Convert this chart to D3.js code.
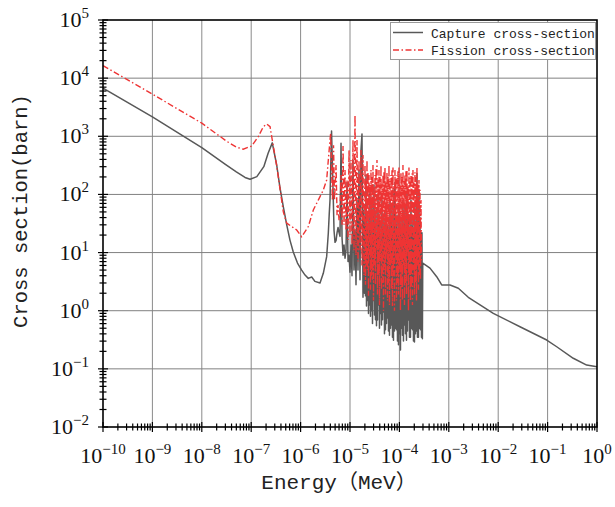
<!DOCTYPE html>
<html><head><meta charset="utf-8">
<script src="https://cdn.jsdelivr.net/npm/d3@7"></script>
<style>body{margin:0;background:#fff;} svg{display:block}</style>
</head><body>
<svg id="c" width="615" height="507"></svg>
<script>
// ---------------- data ----------------
const xTickExps = [-10,-9,-8,-7,-6,-5,-4,-3,-2,-1,0];
const yTickExps = [-2,-1,0,1,2,3,4,5];
const seriesNames = ["Capture cross-section","Fission cross-section"];
const xTitle = "Energy（MeV）";
const yTitle = "Cross section(barn)";

// [energy (MeV), cross section (barn)]
const capture = [
[1e-10,6700],[1e-9,2150],[1e-8,640],[3e-8,330],[5e-8,245],[7.5e-8,196],[9.5e-8,182],
[1.3e-7,202],[1.8e-7,300],[2.2e-7,510],[2.67e-7,770],[3.28e-7,321],[3.83e-7,129],
[4.47e-7,61],[5.24e-7,30],[6.09e-7,16.4],[7.11e-7,10.2],[8.65e-7,6.6],[1.05e-6,5.0],
[1.23e-6,4.1],[1.43e-6,3.6],[1.68e-6,3.8],[1.95e-6,3.2],[2.47e-6,3.0],[2.88e-6,4.4],
[3.37e-6,8.5],[3.64e-6,21.7],[3.79e-6,44],[3.94e-6,80],[4.23e-6,1230],
[4.54e-6,119],[4.75e-6,24],[4.98e-6,15],[5.22e-6,16],[5.47e-6,22],[5.73e-6,27],[6.00e-6,22],
[6.28e-6,19],[6.58e-6,760],[6.90e-6,18],[7.23e-6,9],[7.57e-6,13.5],[7.93e-6,8],[8.31e-6,11],
[8.71e-6,160],[9.12e-6,7],[9.56e-6,9],[1.00e-5,4.6],[1.048e-5,13.5],[1.098e-5,4],[1.15e-5,390],
[1.205e-5,5],[1.263e-5,24],[1.323e-5,2.8],[1.386e-5,80],[1.452e-5,5],[1.521e-5,263],[1.594e-5,3.4],
[1.67e-5,580],[1.749e-5,1100],[1.833e-5,1.7],[1.92e-5,54],[1.966e-5,2.0],
[2.012e-5,40],[2.060e-5,1.8],[2.108e-5,216],[2.157e-5,1.2],[2.208e-5,30],[2.260e-5,1.5],
[2.313e-5,44],[2.368e-5,0.9],[2.424e-5,20],[2.481e-5,1.25],[2.539e-5,119],[2.599e-5,0.8],
[2.660e-5,25],[2.723e-5,1.0],[2.787e-5,80],[2.853e-5,0.6],[2.920e-5,18],[2.989e-5,1.5],
[3.059e-5,145],[3.131e-5,0.84],[3.205e-5,30],[3.281e-5,0.7],[3.358e-5,54],[3.437e-5,0.55],
[3.518e-5,22],[3.601e-5,0.69],[3.686e-5,98],[3.773e-5,1.25],[3.861e-5,35],[3.952e-5,0.5],
[4.046e-5,36],[4.141e-5,0.9],[4.239e-5,15],[4.339e-5,0.57],[4.441e-5,80],[4.546e-5,0.7],
[4.653e-5,25],[4.763e-5,0.95],[4.875e-5,44],[4.990e-5,0.4],[5.107e-5,18],[5.228e-5,0.47],
[5.351e-5,66],[5.477e-5,0.6],[5.606e-5,28],[5.738e-5,0.75],[5.873e-5,30],[6.011e-5,0.45],
[6.153e-5,20],[6.298e-5,0.38],[6.447e-5,80],[6.599e-5,0.5],[6.754e-5,35],[6.913e-5,0.57],
[7.076e-5,54],[7.243e-5,0.35],[7.414e-5,22],[7.589e-5,0.31],[7.767e-5,119],[7.950e-5,0.45],
[8.138e-5,160],[8.330e-5,0.5],[8.526e-5,30],[8.727e-5,0.47],[8.933e-5,44],[9.143e-5,0.3],
[9.359e-5,20],[9.579e-5,0.26],[9.805e-5,66],[1.0035e-4,0.4],[1.027e-4,25],[1.051e-4,0.21],
[1.076e-4,36],[1.102e-4,0.5],[1.128e-4,18],[1.154e-4,0.38],[1.181e-4,80],[1.209e-4,0.3],
[1.238e-4,30],[1.267e-4,0.57],[1.297e-4,54],[1.328e-4,0.4],[1.359e-4,22],[1.391e-4,0.31],
[1.423e-4,98],[1.457e-4,0.45],[1.491e-4,35],[1.526e-4,0.69],[1.562e-4,44],[1.599e-4,0.35],
[1.637e-4,18],[1.675e-4,0.35],[1.715e-4,80],[1.755e-4,0.5],[1.797e-4,28],[1.839e-4,0.47],
[1.882e-4,36],[1.927e-4,0.3],[1.972e-4,20],[2.018e-4,0.29],[2.066e-4,66],[2.115e-4,0.4],
[2.165e-4,30],[2.216e-4,0.45],[2.268e-4,230],[2.321e-4,0.35],[2.376e-4,25],[2.432e-4,0.35],
[2.490e-4,119],[2.549e-4,0.5],[2.608e-4,40],[2.670e-4,0.47],[2.733e-4,22],[2.797e-4,0.35],
[2.863e-4,22],[2.92e-4,0.33],[2.97e-4,6.6],
[4.16e-4,5.4],[5.69e-4,3.85],[7.18e-4,2.77],[1.06e-3,2.77],[1.56e-3,2.43],[2.48e-3,1.70],
[7.96e-3,0.90],[2.76e-2,0.53],[9.6e-2,0.313],[0.153,0.24],[0.331,0.152],[0.618,0.116],[1.0,0.109]
];

const fission = [
[1e-10,16400],[1e-9,5300],[1e-8,1680],[3.2e-8,820],[5e-8,650],[6.9e-8,600],[1.02e-7,680],
[1.39e-7,985],[1.76e-7,1460],[2.06e-7,1630],[2.41e-7,1460],[2.67e-7,863],[3.28e-7,310],
[3.83e-7,125],[4.47e-7,50],[5.24e-7,32],[6.61e-7,28],[8.34e-7,24.4],[1.05e-6,18.7],
[1.43e-6,28],[1.81e-6,54],[2.28e-6,80],[2.88e-6,119],[3.37e-6,177],[3.64e-6,391],
[3.94e-6,863],[4.06e-6,1120],[4.23e-6,300],[4.41e-6,80],[4.64e-6,700],[4.86e-6,80],
[5.22e-6,320],[5.47e-6,44],[5.73e-6,66],[6.00e-6,36],[6.28e-6,54],[6.58e-6,216],[6.90e-6,30],
[7.23e-6,680],[7.57e-6,30],[7.93e-6,263],[8.31e-6,24],[8.71e-6,177],[9.12e-6,16.4],[9.56e-6,580],
[1.00e-5,20],[1.048e-5,391],[1.098e-5,13.5],[1.15e-5,863],[1.205e-5,11],[1.263e-5,2320],
[1.323e-5,9],[1.386e-5,863],[1.452e-5,7],[1.521e-5,391],[1.594e-5,11],[1.67e-5,580],
[1.749e-5,6],[1.833e-5,476],[1.92e-5,4.1],[1.966e-5,60],
[2.012e-5,321],[2.060e-5,2.8],[2.108e-5,180],[2.157e-5,6],[2.208e-5,391],[2.260e-5,5],
[2.313e-5,240],[2.368e-5,1.8],[2.424e-5,216],[2.481e-5,8],[2.539e-5,150],[2.599e-5,2.3],
[2.660e-5,263],[2.723e-5,4],[2.787e-5,200],[2.853e-5,3.4],[2.920e-5,321],[2.989e-5,1.5],
[3.059e-5,130],[3.131e-5,6],[3.205e-5,216],[3.281e-5,2.8],[3.358e-5,280],[3.437e-5,12],
[3.518e-5,391],[3.601e-5,1.9],[3.686e-5,180],[3.773e-5,4],[3.861e-5,263],[3.952e-5,1.25],
[4.046e-5,200],[4.141e-5,7],[4.239e-5,321],[4.339e-5,2.3],[4.441e-5,150],[4.546e-5,3],
[4.653e-5,216],[4.763e-5,1.0],[4.875e-5,250],[4.990e-5,5],[5.107e-5,290],[5.228e-5,1.9],
[5.351e-5,160],[5.477e-5,9],[5.606e-5,240],[5.738e-5,1.5],[5.873e-5,200],[6.011e-5,3],
[6.153e-5,321],[6.298e-5,1.25],[6.447e-5,170],[6.599e-5,6],[6.754e-5,216],[6.913e-5,2.3],
[7.076e-5,260],[7.243e-5,1.2],[7.414e-5,290],[7.589e-5,4],[7.767e-5,140],[7.950e-5,1.0],
[8.138e-5,263],[8.330e-5,8],[8.526e-5,190],[8.727e-5,1.5],[8.933e-5,216],[9.143e-5,3],
[9.359e-5,250],[9.579e-5,1.9],[9.805e-5,290],[1.0035e-4,5],[1.027e-4,150],[1.051e-4,1.0],
[1.076e-4,240],[1.102e-4,2.5],[1.128e-4,200],[1.154e-4,1.5],[1.181e-4,321],[1.209e-4,6],
[1.238e-4,170],[1.267e-4,1.25],[1.297e-4,216],[1.328e-4,3],[1.359e-4,250],[1.391e-4,1.9],
[1.423e-4,263],[1.457e-4,10],[1.491e-4,140],[1.526e-4,1.0],[1.562e-4,290],[1.599e-4,4],
[1.637e-4,190],[1.675e-4,1.5],[1.715e-4,216],[1.755e-4,2.5],[1.797e-4,230],[1.839e-4,1.25],
[1.882e-4,263],[1.927e-4,5],[1.972e-4,160],[2.018e-4,1.9],[2.066e-4,240],[2.115e-4,3],
[2.165e-4,200],[2.216e-4,1.5],[2.268e-4,290],[2.321e-4,6],[2.376e-4,150],[2.432e-4,2.3],
[2.490e-4,177],[2.549e-4,4],[2.608e-4,120],[2.670e-4,3.4],[2.733e-4,80],[2.8e-4,7.4]
];

// ---------------- drawing ----------------
const svg = d3.select("#c");
const L = 103, R = 597, T = 20, B = 427;
const x = d3.scaleLog().domain([1e-10, 1]).range([L, R]);
const y = d3.scaleLog().domain([1e-2, 1e5]).range([B, T]);

svg.append("rect").attr("width",615).attr("height",507).attr("fill","#fff");

// grid
const g = svg.append("g");
g.selectAll("line.gx").data(xTickExps.slice(1,-1)).join("line")
  .attr("x1", d => x(Math.pow(10,d))).attr("x2", d => x(Math.pow(10,d)))
  .attr("y1", T).attr("y2", B).attr("stroke","#8a8a8a").attr("stroke-width",1);
g.selectAll("line.gy").data(yTickExps.slice(1,-1)).join("line")
  .attr("y1", d => y(Math.pow(10,d))).attr("y2", d => y(Math.pow(10,d)))
  .attr("x1", L).attr("x2", R).attr("stroke","#808080").attr("stroke-width",1);

// curves
svg.append("clipPath").attr("id","clp").append("rect")
  .attr("x",L).attr("y",T).attr("width",R-L).attr("height",B-T);
const line = d3.line().x(d => x(d[0])).y(d => y(d[1]));
svg.append("path").datum(capture).attr("d", line).attr("clip-path","url(#clp)")
  .attr("fill","none").attr("stroke","#585858").attr("stroke-width",1.5).attr("stroke-linejoin","round");
svg.append("path").datum(fission).attr("d", line).attr("clip-path","url(#clp)")
  .attr("fill","none").attr("stroke","#ee3434").attr("stroke-width",1.4)
  .attr("stroke-dasharray","6,2.5,1.5,2.5");

// minor + major ticks values
function tickVals(exps){
  const v = [];
  for (let i = 0; i < exps.length; i++) {
    v.push({v: Math.pow(10, exps[i]), major: true});
    if (i < exps.length - 1) for (let k = 2; k <= 9; k++) v.push({v: k*Math.pow(10, exps[i]), major: false});
  }
  return v;
}
const ax = svg.append("g");
ax.selectAll("line.tx").data(tickVals(xTickExps)).join("line")
  .attr("x1", d => x(d.v)).attr("x2", d => x(d.v))
  .attr("y1", d => B - (d.major ? 5 : 3.5)).attr("y2", d => B + (d.major ? 5 : 3.5))
  .attr("stroke","#000").attr("stroke-width",1.2);
ax.selectAll("line.ty").data(tickVals(yTickExps)).join("line")
  .attr("y1", d => y(d.v)).attr("y2", d => y(d.v))
  .attr("x1", d => L - (d.major ? 5 : 3.5)).attr("x2", d => L + (d.major ? 5 : 3.5))
  .attr("stroke","#000").attr("stroke-width",1.2);

// frame
svg.append("rect").attr("x",L).attr("y",T).attr("width",R-L).attr("height",B-T)
  .attr("fill","none").attr("stroke","#000").attr("stroke-width",1.6);

// tick labels
const fmtExp = e => (e < 0 ? "\u2212" + Math.abs(e) : String(e));
const xl = svg.append("g").attr("font-family","'Liberation Serif', serif").attr("fill","#111");
xTickExps.forEach(e => {
  const t = xl.append("text").attr("x", x(Math.pow(10,e))).attr("y", 463)
    .attr("text-anchor","middle").attr("font-size",22);
  t.append("tspan").text("10");
  t.append("tspan").attr("dy",-9).attr("font-size",15).text(fmtExp(e));
});
yTickExps.forEach(e => {
  const t = xl.append("text").attr("x", 89).attr("y", y(Math.pow(10,e)) + 7)
    .attr("text-anchor","end").attr("font-size",22);
  t.append("tspan").text("10");
  t.append("tspan").attr("dy",-9).attr("font-size",15).text(fmtExp(e));
});

// axis titles
svg.append("text").attr("x",339).attr("y",489).attr("text-anchor","middle")
  .attr("font-family","'Liberation Mono','Noto Sans CJK SC',monospace").attr("font-size",21)
  .attr("fill","#222").text(xTitle);
svg.append("text").attr("transform","translate(27,211) rotate(-90)").attr("text-anchor","middle")
  .attr("font-family","'Liberation Mono','Noto Sans CJK SC',monospace").attr("font-size",20.5)
  .attr("fill","#222").text(yTitle);

// legend
const lg = svg.append("g");
lg.append("rect").attr("x",390.5).attr("y",22.5).attr("width",205).attr("height",37)
  .attr("fill","#fff").attr("stroke","#9a9a9a").attr("stroke-width",1);
const lstyles = [{c:"#585858", w:1.5, dash:null},{c:"#ee3434", w:1.4, dash:"6,2.5,1.5,2.5"}];
seriesNames.forEach((n,i) => {
  const yy = 32.5 + i*17.5;
  const l = lg.append("line").attr("x1",393).attr("x2",423).attr("y1",yy).attr("y2",yy)
    .attr("stroke",lstyles[i].c).attr("stroke-width",lstyles[i].w);
  if (lstyles[i].dash) l.attr("stroke-dasharray",lstyles[i].dash);
  lg.append("text").attr("x",431).attr("y",yy+5).attr("font-family","'Liberation Mono',monospace")
    .attr("font-size",13).attr("fill","#222").text(n);
});
</script>
</body></html>
